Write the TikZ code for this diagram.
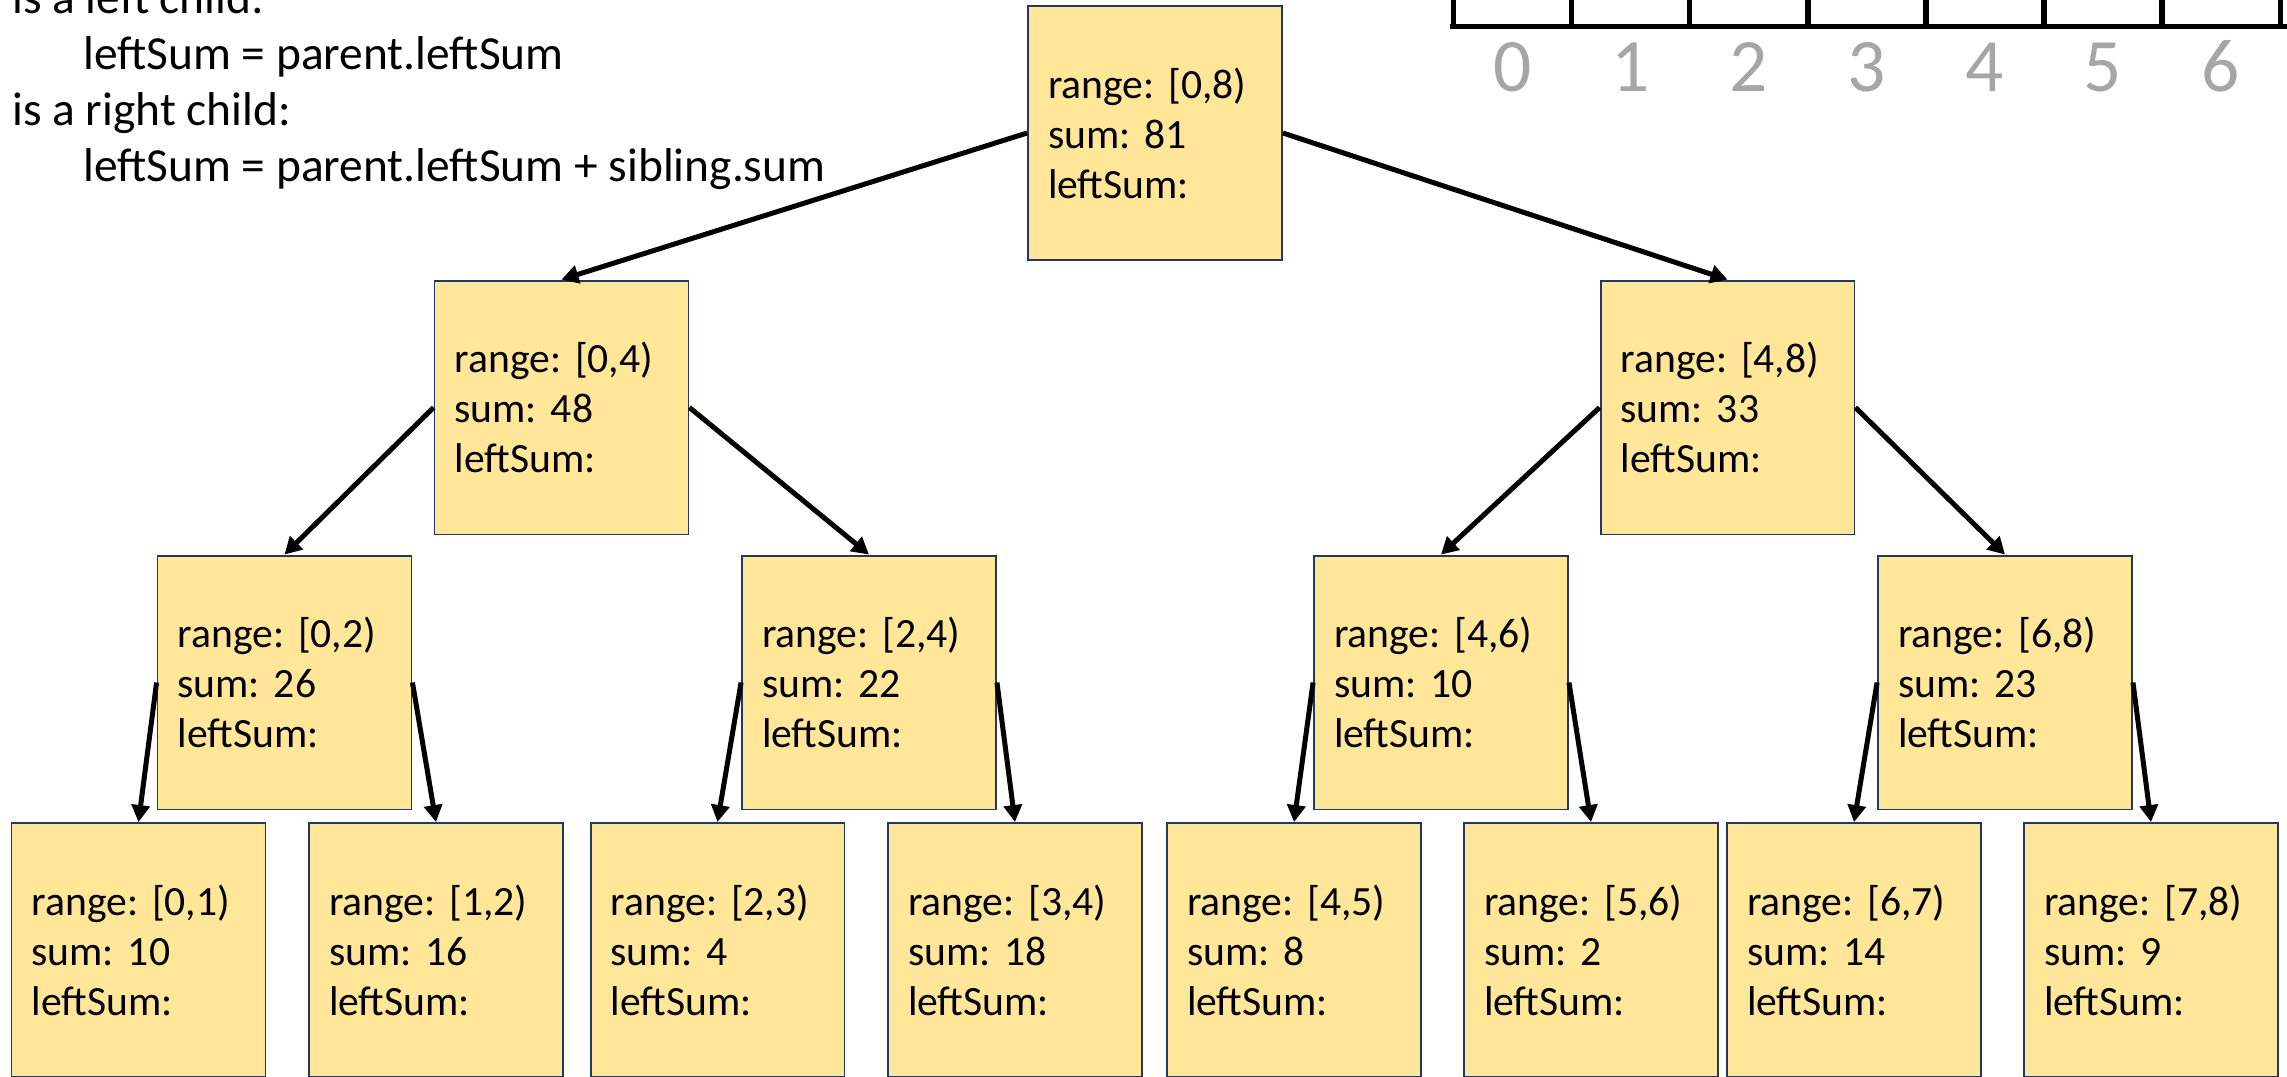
\documentclass[tikz,border=0pt]{standalone}
\usepackage{fontspec}
\setmainfont{Carlito}
\usetikzlibrary{arrows.meta}
\definecolor{boxfill}{HTML}{FFE699}
\definecolor{boxline}{HTML}{203864}
\definecolor{idxgray}{HTML}{A6A6A6}
\frenchspacing

\begin{document}
\begin{tikzpicture}[x=0.02cm,y=-0.02cm]
            \tikzset{
                segbox/.style={draw=boxline,line width=1.1pt,fill=boxfill,minimum width=5.08cm,minimum height=5.08cm,
                    text width=4.28cm,inner xsep=0.4cm,inner ysep=0pt,align=left,font=\fontsize{23.7}{28.5}\selectfont},
                childarrow/.style={line width=2.85pt,-{Triangle[length=0.34cm,width=0.36cm]}},
                ruletext/.style={anchor=base west,inner sep=0pt,font=\fontsize{27}{32}\selectfont},
                idx/.style={anchor=base,inner sep=0pt,text=idxgray,font=\fontsize{43}{50}\selectfont},}
            \def\seg#1#2{range: [#1)\\sum: #2\\leftSum:}
            \useasboundingbox (0,0) rectangle (2287,1076);
            \clip (0,0) rectangle (2287,1076);
            % rules
            \node[ruletext] (r1) at (12,13) {is a left child:};
            \node[ruletext] (r2) at (83,69) {leftSum = parent.leftSum};
            \node[ruletext] (r3) at (12,125) {is a right child:};
            \node[ruletext] (r4) at (83,181) {leftSum = parent.leftSum + sibling.sum};
            % array
            \draw[line width=3.1pt] (1450,26.5) -- (2300,26.5);
            \foreach \i in {0,...,7}
                \draw[line width=3.1pt] (1453.5+118.1*\i,28) -- (1453.5+118.1*\i,-10);
            \foreach \i in {0,...,6}
                \node[idx] (d\i) at (1512.5+118.1*\i,91) {\i};
            % tree
            \node[segbox] (n08) at (1155,133) {\seg{0,8}{81}};
            \node[segbox] (n04) at (561.5,407.5) {\seg{0,4}{48}};
            \node[segbox] (n48) at (1727.5,407.5) {\seg{4,8}{33}};
            \node[segbox] (n02) at (284.5,682.5) {\seg{0,2}{26}};
            \node[segbox] (n24) at (869,682.5) {\seg{2,4}{22}};
            \node[segbox] (n46) at (1441,682.5) {\seg{4,6}{10}};
            \node[segbox] (n68) at (2005,682.5) {\seg{6,8}{23}};
            \node[segbox] (n01) at (138.5,950) {\seg{0,1}{10}};
            \node[segbox] (n12) at (436,950) {\seg{1,2}{16}};
            \node[segbox] (n23) at (717.5,950) {\seg{2,3}{4}};
            \node[segbox] (n34) at (1015,950) {\seg{3,4}{18}};
            \node[segbox] (n45) at (1294,950) {\seg{4,5}{8}};
            \node[segbox] (n56) at (1591,950) {\seg{5,6}{2}};
            \node[segbox] (n67) at (1854,950) {\seg{6,7}{14}};
            \node[segbox] (n78) at (2151,950) {\seg{7,8}{9}};
            \foreach \p/\l/\r in {n08/n04/n48,n04/n02/n24,n48/n46/n68,n02/n01/n12,n24/n23/n34,n46/n45/n56,n68/n67/n78}{
                \draw[childarrow] (\p.west) -- (\l.north);
                \draw[childarrow] (\p.east) -- (\r.north);}
        \end{tikzpicture}
\end{document}
